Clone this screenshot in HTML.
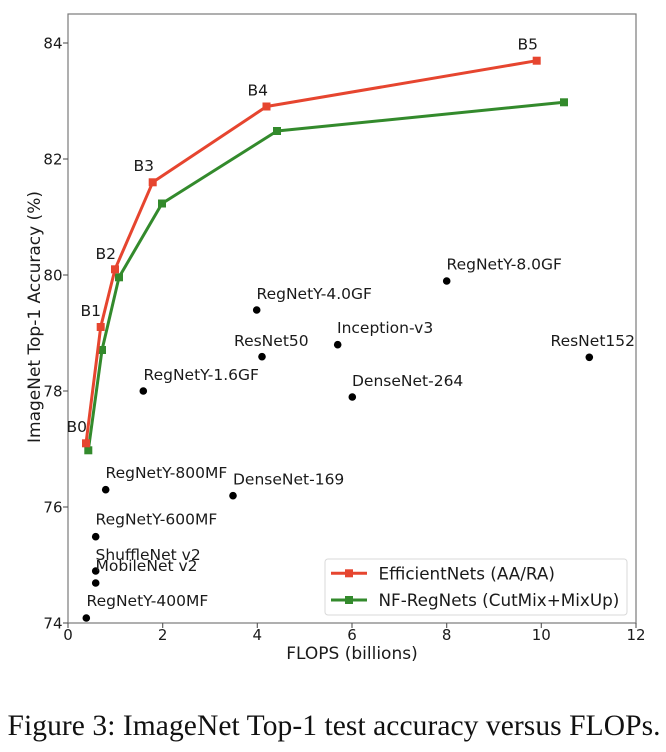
<!DOCTYPE html>
<html>
<head>
<meta charset="utf-8">
<style>
  html, body { margin: 0; padding: 0; background: #ffffff; }
  body { width: 666px; height: 752px; overflow: hidden; }
  svg { display: block; }
  .t { font-family: "DejaVu Sans", "Liberation Sans", sans-serif; fill: #1a1a1a; }
</style>
</head>
<body>
<svg width="666" height="752" viewBox="0 0 666 752" xmlns="http://www.w3.org/2000/svg">
  <rect x="0" y="0" width="666" height="752" fill="#ffffff"/>

  <!-- axes frame -->
  <rect x="68" y="14" width="568" height="609" fill="none" stroke="#7a7a7a" stroke-width="1.2"/>

  <!-- y ticks -->
  <g stroke="#555" stroke-width="1.1">
    <line x1="63" y1="623" x2="68" y2="623"/>
    <line x1="63" y1="507" x2="68" y2="507"/>
    <line x1="63" y1="391" x2="68" y2="391"/>
    <line x1="63" y1="275" x2="68" y2="275"/>
    <line x1="63" y1="159" x2="68" y2="159"/>
    <line x1="63" y1="43" x2="68" y2="43"/>
  </g>
  <g class="t" font-size="15" text-anchor="end">
    <text x="62.5" y="628.5">74</text>
    <text x="62.5" y="512.5">76</text>
    <text x="62.5" y="396.5">78</text>
    <text x="62.5" y="280.5">80</text>
    <text x="62.5" y="164.5">82</text>
    <text x="62.5" y="48.5">84</text>
  </g>

  <!-- x ticks -->
  <g stroke="#555" stroke-width="1.1">
    <line x1="68" y1="623" x2="68" y2="628"/>
    <line x1="162.7" y1="623" x2="162.7" y2="628"/>
    <line x1="257.3" y1="623" x2="257.3" y2="628"/>
    <line x1="352" y1="623" x2="352" y2="628"/>
    <line x1="446.7" y1="623" x2="446.7" y2="628"/>
    <line x1="541.3" y1="623" x2="541.3" y2="628"/>
    <line x1="636" y1="623" x2="636" y2="628"/>
  </g>
  <g class="t" font-size="15" text-anchor="middle">
    <text x="68" y="640">0</text>
    <text x="162.7" y="640">2</text>
    <text x="257.3" y="640">4</text>
    <text x="352" y="640">6</text>
    <text x="446.7" y="640">8</text>
    <text x="541.3" y="640">10</text>
    <text x="636" y="640">12</text>
  </g>

  <!-- axis labels -->
  <text class="t" font-size="17" text-anchor="middle" x="352" y="659">FLOPS (billions)</text>
  <text class="t" font-size="17" text-anchor="middle" transform="translate(40,317) rotate(-90)">ImageNet Top-1 Accuracy (%)</text>

  <!-- scatter points -->
  <g fill="#000">
    <circle cx="86.3" cy="618" r="3.8"/>
    <circle cx="95.7" cy="583" r="3.8"/>
    <circle cx="95.7" cy="571" r="3.8"/>
    <circle cx="95.7" cy="536.7" r="3.8"/>
    <circle cx="105.7" cy="489.7" r="3.8"/>
    <circle cx="233" cy="495.7" r="3.8"/>
    <circle cx="143.3" cy="391" r="3.8"/>
    <circle cx="262" cy="356.7" r="3.8"/>
    <circle cx="256.7" cy="310" r="3.8"/>
    <circle cx="337.7" cy="344.7" r="3.8"/>
    <circle cx="352.3" cy="397" r="3.8"/>
    <circle cx="446.7" cy="281" r="3.8"/>
    <circle cx="589.3" cy="357.3" r="3.8"/>
  </g>
  <g class="t" font-size="15.5">
    <text x="86.5" y="606">RegNetY-400MF</text>
    <text x="95.5" y="571">MobileNet v2</text>
    <text x="95.5" y="560">ShuffleNet v2</text>
    <text x="95.5" y="524.5">RegNetY-600MF</text>
    <text x="105.5" y="478">RegNetY-800MF</text>
    <text x="233" y="484.5">DenseNet-169</text>
    <text x="143.5" y="380">RegNetY-1.6GF</text>
    <text x="234" y="346">ResNet50</text>
    <text x="256.5" y="299">RegNetY-4.0GF</text>
    <text x="337" y="333">Inception-v3</text>
    <text x="352" y="386">DenseNet-264</text>
    <text x="446.5" y="269.5">RegNetY-8.0GF</text>
    <text x="550.5" y="346">ResNet152</text>
  </g>

  <!-- NF-RegNets (green) -->
  <polyline fill="none" stroke="#338a2c" stroke-width="3" stroke-linejoin="round"
    points="88.3,450.3 102,350 119,277.3 162,203.5 277,131 564,102.3"/>
  <g fill="#338a2c">
    <rect x="84.3" y="446.3" width="8" height="8"/>
    <rect x="98" y="346" width="8" height="8"/>
    <rect x="115" y="273.3" width="8" height="8"/>
    <rect x="158" y="199.5" width="8" height="8"/>
    <rect x="273" y="127" width="8" height="8"/>
    <rect x="560" y="98.3" width="8" height="8"/>
  </g>

  <!-- EfficientNets (red) -->
  <polyline fill="none" stroke="#e6452f" stroke-width="3" stroke-linejoin="round"
    points="86,443.3 100.7,327 115,269.3 152.7,182.3 266.5,106.5 536.7,60.7"/>
  <g fill="#e6452f">
    <rect x="82" y="439.3" width="8" height="8"/>
    <rect x="96.7" y="323" width="8" height="8"/>
    <rect x="111" y="265.3" width="8" height="8"/>
    <rect x="148.7" y="178.3" width="8" height="8"/>
    <rect x="262.5" y="102.5" width="8" height="8"/>
    <rect x="532.7" y="56.7" width="8" height="8"/>
  </g>
  <g class="t" font-size="15.5" text-anchor="end">
    <text x="87" y="432">B0</text>
    <text x="101" y="316">B1</text>
    <text x="116" y="259">B2</text>
    <text x="154" y="171">B3</text>
    <text x="268" y="95.5">B4</text>
    <text x="538" y="49.5">B5</text>
  </g>

  <!-- legend -->
  <rect x="325" y="559" width="302" height="56" rx="3" ry="3" fill="#ffffff" fill-opacity="0.85" stroke="#d9d9d9" stroke-width="1"/>
  <line x1="331" y1="573.3" x2="367" y2="573.3" stroke="#e6452f" stroke-width="3"/>
  <rect x="345" y="569.3" width="8" height="8" fill="#e6452f"/>
  <line x1="331" y1="600" x2="367" y2="600" stroke="#338a2c" stroke-width="3"/>
  <rect x="345" y="596" width="8" height="8" fill="#338a2c"/>
  <text class="t" font-size="16.8" x="378.5" y="579.5">EfficientNets (AA/RA)</text>
  <text class="t" font-size="16.8" x="378.5" y="606">NF-RegNets (CutMix+MixUp)</text>

  <!-- caption -->
  <text x="7.5" y="735" font-family="'Liberation Serif', 'Times New Roman', serif" font-size="29.5" fill="#111" textLength="653" lengthAdjust="spacing">Figure 3: ImageNet Top-1 test accuracy versus FLOPs.</text>
</svg>
</body>
</html>
